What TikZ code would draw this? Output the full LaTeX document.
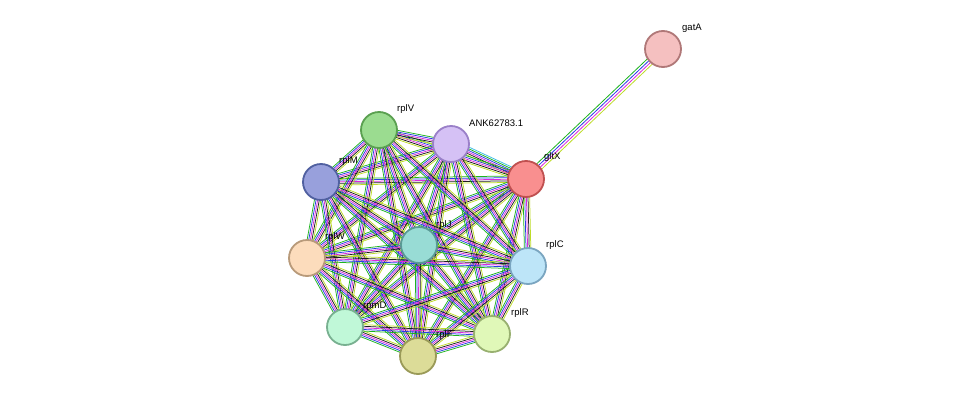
\documentclass[tikz,border=0pt]{standalone}
\usepackage{fontspec}
\setmainfont{Liberation Sans}
\usetikzlibrary{calc}
\definecolor{cgreen}{RGB}{30,180,30}
\definecolor{cblue}{RGB}{40,60,230}
\definecolor{cmag}{RGB}{220,40,220}
\definecolor{cyel}{RGB}{190,220,40}
\definecolor{ccyan}{RGB}{60,190,230}
\definecolor{cblack}{RGB}{30,30,30}
\begin{document}
\begin{tikzpicture}[x=1pt,y=-1pt,
  prot/.style={circle,minimum size=36pt,inner sep=0pt,line width=1.8pt},
  lab/.style={anchor=west,font=\fontsize{9.5}{11}\selectfont,inner sep=0pt},
  ln/.style={line width=0.8pt}]
\fill[white] (0,0) rectangle (975,402);
\useasboundingbox (0,0) rectangle (975,402);
\coordinate (gatA) at (663,49);
\coordinate (gltX) at (526,179);
\coordinate (ANK) at (451,144);
\coordinate (rplV) at (379,130);
\coordinate (rplM) at (321,182);
\coordinate (rplJ) at (419,245);
\coordinate (rplW) at (307,258);
\coordinate (rplC) at (528,266);
\coordinate (rpmD) at (345,327);
\coordinate (rplF) at (418,356);
\coordinate (rplR) at (492,334);
% edges
\foreach \a/\b in {gatA/gltX}{
  \foreach \k/\c in {-3.6/cgreen,-1.2/cblue,1.2/cmag,3.6/cyel}{
    \draw[ln,\c] ($(\a)!\k pt!90:(\b)$) -- ($(\b)!\k pt!-90:(\a)$);}}
\foreach \a/\b in {gltX/ANK,gltX/rplV,gltX/rplM,gltX/rplJ,gltX/rplW,gltX/rplC,gltX/rpmD,gltX/rplF,gltX/rplR,
 ANK/rplV,ANK/rplM,ANK/rplJ,ANK/rplW,ANK/rplC,ANK/rpmD,ANK/rplF,ANK/rplR,
 rplV/rplM,rplV/rplJ,rplV/rplW,rplV/rplC,rplV/rpmD,rplV/rplF,rplV/rplR,
 rplM/rplJ,rplM/rplW,rplM/rplC,rplM/rpmD,rplM/rplF,rplM/rplR,
 rplJ/rplW,rplJ/rplC,rplJ/rpmD,rplJ/rplF,rplJ/rplR,
 rplW/rplC,rplW/rpmD,rplW/rplF,rplW/rplR,
 rplC/rpmD,rplC/rplF,rplC/rplR,
 rpmD/rplF,rpmD/rplR,rplF/rplR}{
  \foreach \k/\c in {-3.2/cgreen,-1.6/cblue,0/cmag,1.6/cblack,3.2/cyel}{
    \draw[line width=0.75pt,\c] ($(\a)!\k pt!90:(\b)$) -- ($(\b)!\k pt!-90:(\a)$);}}
\draw[line width=0.75pt,ccyan] ($(ANK)!4.8pt!90:(gltX)$) -- ($(gltX)!4.8pt!-90:(ANK)$);
% nodes
\node[prot,fill={rgb,255:red,245;green,192;blue,192},draw={rgb,255:red,176;green,120;blue,120}] (n-gatA) at (gatA) {};
\node[prot,fill={rgb,255:red,249;green,143;blue,143},draw={rgb,255:red,192;green,80;blue,80}] (n-gltX) at (gltX) {};
\node[prot,fill={rgb,255:red,213;green,193;blue,245},draw={rgb,255:red,154;green,128;blue,200}] (n-ANK) at (ANK) {};
\node[prot,fill={rgb,255:red,155;green,220;blue,144},draw={rgb,255:red,90;green,160;blue,80}] (n-rplV) at (rplV) {};
\node[prot,fill={rgb,255:red,152;green,160;blue,220},draw={rgb,255:red,80;green,96;blue,160}] (n-rplM) at (rplM) {};
\node[prot,fill={rgb,255:red,152;green,220;blue,213},draw={rgb,255:red,90;green,154;blue,149}] (n-rplJ) at (rplJ) {};
\node[prot,fill={rgb,255:red,252;green,220;blue,188},draw={rgb,255:red,184;green,154;blue,122}] (n-rplW) at (rplW) {};
\node[prot,fill={rgb,255:red,189;green,229;blue,248},draw={rgb,255:red,122;green,165;blue,192}] (n-rplC) at (rplC) {};
\node[prot,fill={rgb,255:red,192;green,248;blue,216},draw={rgb,255:red,120;green,176;blue,144}] (n-rpmD) at (rpmD) {};
\node[prot,fill={rgb,255:red,220;green,220;blue,152},draw={rgb,255:red,154;green,154;blue,88}] (n-rplF) at (rplF) {};
\node[prot,fill={rgb,255:red,224;green,248;blue,184},draw={rgb,255:red,152;green,176;blue,112}] (n-rplR) at (rplR) {};
% labels
\node[lab] (l-gatA) at (682,28) {gatA};
\node[lab] (l-gltX) at (544,157) {gltX};
\node[lab] (l-ANK) at (469,123) {ANK62783.1};
\node[lab] (l-rplV) at (397,109) {rplV};
\node[lab] (l-rplM) at (339,161) {rplM};
\node[lab] (l-rplJ) at (436,225) {rplJ};
\node[lab] (l-rplW) at (325,237) {rplW};
\node[lab] (l-rplC) at (546,245) {rplC};
\node[lab] (l-rpmD) at (363,306) {rpmD};
\node[lab] (l-rplF) at (436,335) {rplF};
\node[lab] (l-rplR) at (511,313) {rplR};
\end{tikzpicture}
\end{document}
